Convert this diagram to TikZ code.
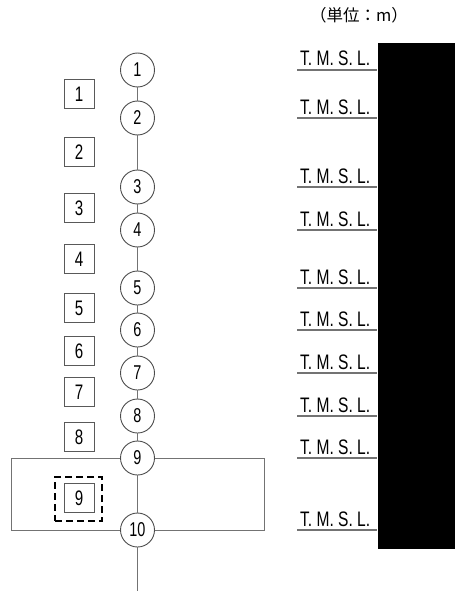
\documentclass[tikz,border=0pt]{standalone}
\usepackage{fontspec}
\setmainfont{Liberation Sans}
\newfontfamily\cjk{Noto Sans CJK JP}
\newcommand\cond[1]{\scalebox{0.72}[1]{#1}}
\newcommand\condt[1]{\scalebox{0.74}[1]{#1}}
\tikzset{
  num/.style={circle, draw=black!70, fill=white, line width=0.9pt, minimum size=34pt, inner sep=0pt, font=\fontsize{20}{20}\selectfont},
  sq/.style={draw=black!65, fill=white, line width=0.9pt, minimum width=30pt, minimum height=29pt, inner sep=0pt, font=\fontsize{21}{21}\selectfont},
  conn/.style={draw=black!55, line width=1pt},
  frame/.style={draw=black!55, line width=1pt},
  dashbox/.style={draw=black, line width=2pt, dash pattern=on 7pt off 4pt},
  tm/.style={anchor=base west, inner sep=0pt, font=\fontsize{21}{21}\selectfont},
  uline/.style={draw=black!55, line width=1.4pt},
}
\begin{document}
\begin{tikzpicture}[x=1pt,y=-1pt]
\useasboundingbox (0,0) rectangle (455,591);
% black box
\fill[black] (378,43) rectangle (455,549);
% unit label
\node[inner sep=0pt, font=\cjk\fontsize{16.5}{16.5}\selectfont] (unit) at (359,15) {（単位：m）};
% circles
\foreach \i/\y in {1/70,2/118,3/187,4/230,5/288,6/330,7/373,8/416,9/458,10/530}{
  \node[num] (c\i) at (137.5,\y) {\cond{\i}};
  \node[tm] (t\i) at (300,\y-4) {\condt{T. M. S. L.}};
  \coordinate (ua\i) at (297,\y);
  \coordinate (ub\i) at (377,\y);
  \draw[uline] (ua\i) -- (ub\i);
}
% squares
\foreach \i/\y in {1/94,2/152,3/208,4/259,5/308,6/351,7/392,8/437}{
  \node[sq] (s\i) at (79,\y) {\cond{\i}};
}
% connectors
\foreach \a/\b in {1/2,2/3,3/4,4/5,5/6,6/7,7/8,8/9,9/10}{
  \draw[conn] (c\a) -- (c\b);
}
\coordinate (bot) at (137.5,591);
\draw[conn] (c10) -- (bot);
% frame
\coordinate (fl1) at (11,458);
\coordinate (fl2) at (11,530);
\coordinate (fr1) at (264,458);
\coordinate (fr2) at (264,530);
\draw[frame] (c9.west) -- (fl1) -- (fl2) -- (c10.west);
\draw[frame] (c9.east) -- (fr1) -- (fr2) -- (c10.east);
% dashed square with 9
\node[dashbox, minimum width=47pt, minimum height=44pt, inner sep=0pt] (d9) at (78.5,499) {};
\node[sq] (s9) at (79,498) {\cond{9}};
\end{tikzpicture}
\end{document}
